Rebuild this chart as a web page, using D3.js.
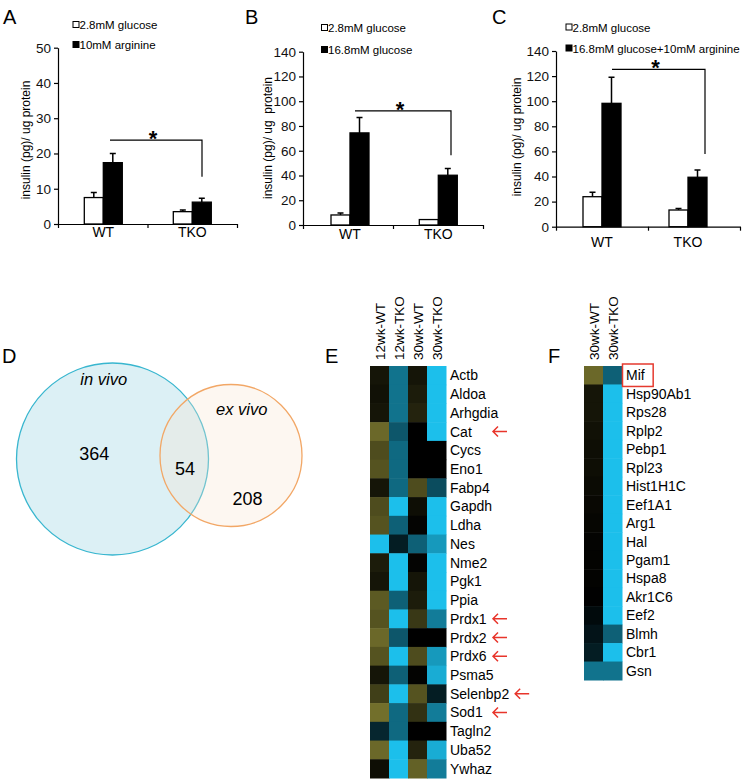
<!DOCTYPE html>
<html>
<head>
<meta charset="utf-8">
<script src="https://cdnjs.cloudflare.com/ajax/libs/d3/7.8.5/d3.min.js"></script>
<style>
  body { margin: 0; background: #fff; }
  svg { display: block; font-family: "Liberation Sans", Arial, Helvetica, sans-serif; }
</style>
</head>
<body>
<script>
// ---------- data ----------
// bar panels A, B, C
var groups = ["WT", "TKO"];

var aLow = [7.5, 3.5], aLowErr = [1.4, 0.5];
var aHigh = [17.4, 6.2], aHighErr = [2.6, 1.1];
var aTicks = [0, 10, 20, 30, 40, 50];
var aLegend = ["2.8mM glucose", "10mM arginine"];
var aSig = [23.8, 13.4];

var bLow = [8.1, 4.4], bLowErr = [1.6, 0];
var bHigh = [74.4, 40.2], bHighErr = [12.5, 5.4];
var bTicks = [0, 20, 40, 60, 80, 100, 120, 140];
var bLegend = ["2.8mM glucose", "16.8mM glucose"];
var bSig = [92.2, 56.4];

var cLow = [23.9, 13.3], cLowErr = [3.5, 1.3];
var cHigh = [98.3, 39.4], cHighErr = [20.7, 5.8];
var cTicks = [0, 20, 40, 60, 80, 100, 120, 140];
var cLegend = ["2.8mM glucose", "16.8mM glucose+10mM arginine"];
var cSig = [125.4, 57.9];

// venn panel D
var vennSets = ["in vivo", "ex vivo"];
var vennCounts = [364, 54, 208];

// heatmap panel E (-1 = cyan, 0 = black, 1 = olive)
var eGenes = ["Actb", "Aldoa", "Arhgdia", "Cat", "Cycs", "Eno1", "Fabp4", "Gapdh", "Ldha", "Nes",
  "Nme2", "Pgk1", "Ppia", "Prdx1", "Prdx2", "Prdx6", "Psma5", "Selenbp2", "Sod1", "Tagln2", "Uba52", "Ywhaz"];
var eCols = ["12wk-WT", "12wk-TKO", "30wk-WT", "30wk-TKO"];
var e12WT  = [0.15, 0.12, 0.15, 0.75, 0.55, 0.6, 0.15, 0.55, 0.6, -1, 0.2, 0.15, 0.65, 0.6, 0.75, 0.6, 0.15, 0.45, 0.8, -0.2, 0.75, 0.1];
var e12TKO = [-0.6, -0.6, -0.6, -0.45, -0.55, -0.55, -0.55, -1, -0.5, -0.15, -1, -1, -0.5, -1, -0.45, -1, -0.5, -1, -0.55, -0.55, -1, -1];
var e30WT  = [0.15, 0.2, 0.25, 0, 0, 0, 0.55, 0.1, 0.03, -0.5, 0.03, 0.15, 0.2, 0.4, 0, 0.55, 0.02, 0.6, 0.35, 0, 0.25, 0.7];
var e30TKO = [-1, -1, -1, -1, 0, 0, -0.4, -1, -1, -0.8, -1, -1, -1, -0.65, 0, -0.8, -0.9, -0.15, -0.65, 0, -0.9, -0.65];
var arrowGenes = ["Cat", "Prdx1", "Prdx2", "Prdx6", "Selenbp2", "Sod1"];

// heatmap panel F
var fGenes = ["Mif", "Hsp90Ab1", "Rps28", "Rplp2", "Pebp1", "Rpl23", "Hist1H1C", "Eef1A1", "Arg1",
  "Hal", "Pgam1", "Hspa8", "Akr1C6", "Eef2", "Blmh", "Cbr1", "Gsn"];
var fCols = ["30wk-WT", "30wk-TKO"];
var f30WT  = [0.75, 0.15, 0.15, 0.12, 0.1, 0.1, 0.08, 0.06, 0.04, 0.03, 0.02, 0.02, 0.01, -0.05, -0.1, -0.15, -0.6];
var f30TKO = [-0.5, -1, -1, -1, -1, -1, -1, -1, -1, -1, -1, -1, -1, -1, -0.5, -1, -0.6];
var boxGenes = ["Mif"];

// ---------- svg ----------
var svg = d3.select("body").append("svg")
  .attr("width", 742)
  .attr("height", 782);

svg.append("rect").attr("width", 742).attr("height", 782).attr("fill", "#fff");

function panelLetter(txt, x, y) {
  svg.append("text")
    .attr("x", x).attr("y", y)
    .style("font-size", "20px")
    .text(txt);
}

// make a d3 axis look like the excel one
function styleAxis(sel) {
  sel.selectAll("path, line")
    .attr("stroke", "#000")
    .attr("stroke-width", 1.2);
  sel.selectAll("text")
    .style("font-family", "'Liberation Sans', Arial, sans-serif")
    .style("font-size", "13.5px")
    .attr("fill", "#111");
}

// ---------- bar panels ----------
var barPanels = [
  { id: "A", low: aLow, lowErr: aLowErr, high: aHigh, highErr: aHighErr, ticks: aTicks, legend: aLegend, sig: aSig,
    x0: 58, x1: 237, zeroY: 224, topY: 47.7, wtX: 103.3, tkoX: 192.3, letter: [3, 24],
    legendX: 73, legendY: [25, 45], titleX: 30, titleY: 140, labelY: 237, sigX: [110, 202] },
  { id: "B", low: bLow, lowErr: bLowErr, high: bHigh, highErr: bHighErr, ticks: bTicks, legend: bLegend, sig: bSig,
    x0: 303, x1: 483, zeroY: 225, topY: 51.7, wtX: 350, tkoX: 438.3, letter: [245, 24],
    legendX: 321.5, legendY: [28, 50], titleX: 272, titleY: 138, labelY: 239, sigX: [355, 451] },
  { id: "C", low: cLow, lowErr: cLowErr, high: cHigh, highErr: cHighErr, ticks: cTicks, legend: cLegend, sig: cSig,
    x0: 556, x1: 740, zeroY: 226.7, topY: 51, wtX: 602, tkoX: 688, letter: [492, 24],
    legendX: 566, legendY: [27.5, 48.5], titleX: 521, titleY: 137, labelY: 247, sigX: [612, 705] }
];

var barW = 19;

barPanels.forEach(function(p) {
  var g = svg.append("g");

  var y = d3.scaleLinear()
    .domain([0, p.ticks[p.ticks.length - 1]])
    .range([p.zeroY, p.topY]);

  var x = d3.scalePoint()
    .domain(groups)
    .range([p.wtX, p.tkoX]);

  // y axis
  g.append("g")
    .attr("transform", `translate(${p.x0}, 0)`)
    .call(d3.axisLeft(y).tickValues(p.ticks).tickSize(4).tickSizeOuter(0).tickPadding(3))
    .call(styleAxis);

  // x axis: line with ticks at both ends and in the middle
  var xLine = d3.scaleLinear().domain([0, 2]).range([p.x0, p.x1]);
  g.append("g")
    .attr("transform", `translate(0, ${p.zeroY})`)
    .call(d3.axisBottom(xLine).tickValues([0, 1, 2]).tickFormat("").tickSize(4).tickSizeOuter(0))
    .call(styleAxis);

  g.selectAll("text.grp")
    .data(groups)
    .enter()
    .append("text")
    .attr("class", "grp")
    .attr("x", d => x(d))
    .attr("y", p.labelY)
    .attr("text-anchor", "middle")
    .style("font-size", "14px")
    .text(d => d);

  // bars
  var series = [
    { vals: p.low, errs: p.lowErr, fill: "#fff", off: -barW },
    { vals: p.high, errs: p.highErr, fill: "#000", off: 0 }
  ];

  series.forEach(function(s) {
    // error bars first so the bar covers the bottom
    g.selectAll(null)
      .data(groups)
      .enter()
      .append("path")
      .filter((d, i) => s.errs[i] > 0)
      .attr("d", function(d, i) {
        var cx = x(d) + s.off + barW / 2;
        var yt = y(s.vals[i] + s.errs[i]);
        return `M${cx},${y(s.vals[i])}V${yt}M${cx - 3},${yt}H${cx + 3}`;
      })
      .attr("stroke", "#000")
      .attr("stroke-width", 1.5)
      .attr("fill", "none");

    g.selectAll(null)
      .data(groups)
      .enter()
      .append("rect")
      .attr("x", d => x(d) + s.off)
      .attr("width", barW)
      .attr("y", (d, i) => y(s.vals[i]))
      .attr("height", (d, i) => p.zeroY - y(s.vals[i]))
      .attr("fill", s.fill)
      .attr("stroke", "#000")
      .attr("stroke-width", 1.3);
  });

  // significance bracket
  g.append("path")
    .attr("d", `M${p.sigX[0]},${y(p.sig[0])}H${p.sigX[1]}V${y(p.sig[1])}`)
    .attr("fill", "none")
    .attr("stroke", "#000")
    .attr("stroke-width", 1.2);

  g.append("text")
    .attr("x", (p.sigX[0] + p.sigX[1]) / 2 - 3)
    .attr("y", y(p.sig[0]) + 6)
    .attr("text-anchor", "middle")
    .style("font-size", "22px")
    .style("font-weight", "bold")
    .text("*");

  // legend
  p.legend.forEach(function(t, i) {
    g.append("rect")
      .attr("x", p.legendX)
      .attr("y", p.legendY[i] - 3.5)
      .attr("width", 6)
      .attr("height", 6)
      .attr("fill", i === 0 ? "#fff" : "#000")
      .attr("stroke", "#000")
      .attr("stroke-width", 1);
    g.append("text")
      .attr("x", p.legendX + 6.5)
      .attr("y", p.legendY[i] + 4)
      .style("font-size", "11.5px")
      .text(t);
  });

  // y axis title
  g.append("text")
    .attr("transform", `translate(${p.titleX}, ${p.titleY}) rotate(-90)`)
    .attr("text-anchor", "middle")
    .style("font-size", "12px")
    .style("white-space", "pre")
    .text(p.id === "B" ? "insulin (pg)/ ug  protein" : "insulin (pg)/ ug protein");

  panelLetter(p.id, p.letter[0], p.letter[1]);
});

// ---------- venn panel D ----------
panelLetter("D", 2, 363);

var vennG = svg.append("g");
var vennCircles = [
  { cx: 112.5, cy: 459, r: 96, fill: "#dcf0f5", stroke: "#38b6cf", op: 1 },
  { cx: 231, cy: 455.5, r: 71, fill: "#f7e4cf", stroke: "#f2a766", op: 0.3 }
];
vennG.selectAll("circle")
  .data(vennCircles)
  .enter()
  .append("circle")
  .attr("cx", d => d.cx)
  .attr("cy", d => d.cy)
  .attr("r", d => d.r)
  .attr("fill", d => d.fill)
  .attr("fill-opacity", d => d.op)
  .attr("stroke", d => d.stroke)
  .attr("stroke-width", 1.3);

vennG.selectAll("text.set")
  .data(vennSets)
  .enter()
  .append("text")
  .attr("class", "set")
  .attr("x", (d, i) => [103.7, 241.7][i])
  .attr("y", (d, i) => [385, 415][i])
  .attr("text-anchor", "middle")
  .style("font-size", "16.5px")
  .style("font-style", "italic")
  .text(d => d);

vennG.selectAll("text.count")
  .data(vennCounts)
  .enter()
  .append("text")
  .attr("class", "count")
  .attr("x", (d, i) => [94.3, 185, 247.5][i])
  .attr("y", (d, i) => [460, 475, 505][i])
  .attr("text-anchor", "middle")
  .style("font-size", "18px")
  .text(d => d);

// ---------- heatmaps ----------
var heatColor = d3.scaleLinear()
  .domain([-1, 0, 1])
  .range(["#1cbfeb", "#000000", "#8e8b36"]);

function drawHeatmap(genes, cols, colVals, xRange, yRange, marks) {
  var g = svg.append("g");

  var x = d3.scaleBand().domain(cols).range(xRange);
  var y = d3.scaleBand().domain(genes).range(yRange);

  cols.forEach(function(c, ci) {
    g.selectAll(null)
      .data(genes)
      .enter()
      .append("rect")
      .attr("x", x(c))
      .attr("y", d => y(d))
      .attr("width", x.bandwidth() + 0.5)
      .attr("height", y.bandwidth() + 0.5)
      .attr("fill", (d, i) => heatColor(colVals[ci][i]));
  });

  // column labels
  g.selectAll("text.col")
    .data(cols)
    .enter()
    .append("text")
    .attr("class", "col")
    .attr("transform", d => `translate(${x(d) + x.bandwidth() / 2 + 5}, ${yRange[0] - 6}) rotate(-90)`)
    .style("font-size", "13.5px")
    .text(d => d);

  // row labels
  var labelX = xRange[1] + 4;
  var labels = g.selectAll("text.row")
    .data(genes)
    .enter()
    .append("text")
    .attr("class", "row")
    .attr("x", labelX)
    .attr("y", d => y(d) + y.bandwidth() / 2)
    .attr("dy", "0.36em")
    .style("font-size", "14px")
    .text(d => d);

  if (marks.arrows) {
    labels.filter(d => marks.arrows.includes(d)).each(function(d) {
      var end = labelX + this.getComputedTextLength();
      var ax = Math.max(xRange[1] + 47, end + 6);
      var ay = y(d) + y.bandwidth() / 2;
      g.append("path")
        .attr("d", `M${ax + 5},${ay - 5}L${ax},${ay}L${ax + 5},${ay + 5}M${ax},${ay}H${ax + 14}`)
        .attr("fill", "none")
        .attr("stroke", "#e8352b")
        .attr("stroke-width", 1.5);
    });
  }

  if (marks.box) {
    labels.filter(d => marks.box.includes(d)).each(function(d) {
      var w = this.getComputedTextLength();
      g.append("rect")
        .attr("x", xRange[1] + 0.5)
        .attr("y", y(d) - 2)
        .attr("width", w + 12)
        .attr("height", y.bandwidth() + 4)
        .attr("fill", "none")
        .attr("stroke", "#e53a2f")
        .attr("stroke-width", 1.5);
    });
  }
}

panelLetter("E", 325, 363);
drawHeatmap(eGenes, eCols, [e12WT, e12TKO, e30WT, e30TKO], [370, 446], [366, 778], { arrows: arrowGenes });

panelLetter("F", 548, 363);
drawHeatmap(fGenes, fCols, [f30WT, f30TKO], [584, 622], [366, 680], { box: boxGenes });
</script>
</body>
</html>
